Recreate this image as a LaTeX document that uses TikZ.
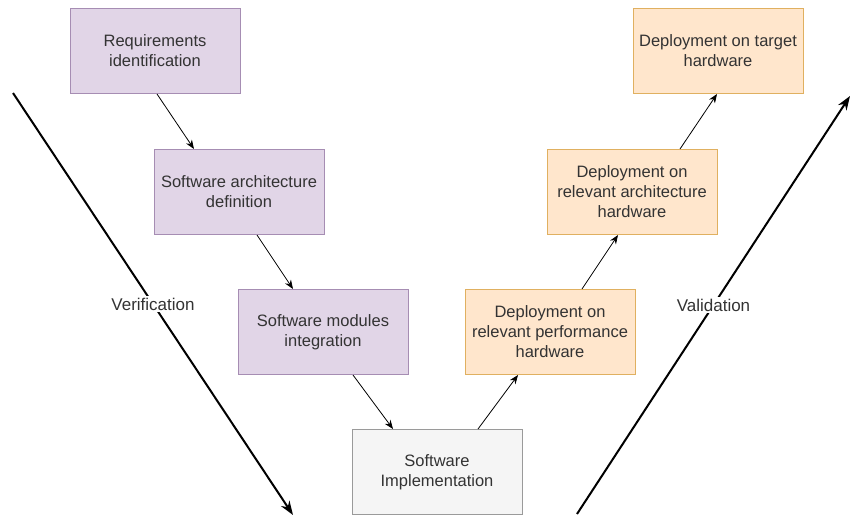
\documentclass[tikz,border=0pt]{standalone}
\usepackage{fontspec}
\setmainfont{Liberation Sans}
\usetikzlibrary{arrows.meta}
\definecolor{lilacfill}{HTML}{E1D5E7}
\definecolor{lilacline}{HTML}{A68DB3}
\definecolor{peachfill}{HTML}{FFE6CC}
\definecolor{peachline}{HTML}{E0B060}
\definecolor{greyfill}{HTML}{F5F5F5}
\definecolor{greyline}{HTML}{9A9A9A}
\definecolor{inktext}{HTML}{333333}

\begin{document}
\begin{tikzpicture}[x=1pt, y=-1pt,
  stage/.style={draw, line width=1pt, minimum width=170pt, minimum height=85pt,
    align=center, text=inktext, font=\fontsize{16.5}{20}\selectfont},
  softbox/.style={stage, fill=lilacfill, draw=lilacline},
  hwbox/.style={stage, fill=peachfill, draw=peachline},
  implbox/.style={stage, fill=greyfill, draw=greyline},
  flow/.style={line width=0.8pt, -{Stealth[length=9pt, width=7pt]}},
  axis/.style={line width=2pt, -{Stealth[length=14pt, width=10pt]}},
  axislabel/.style={fill=white, inner sep=2pt, text=inktext,
    font=\fontsize{17}{20}\selectfont}]

% Canvas
\useasboundingbox (0,0) rectangle (851,517);

% Left branch: software stages
\node[softbox] (req)  at (155,51)  {Requirements\\identification};
\node[softbox] (arch) at (239,192) {Software architecture\\definition};
\node[softbox] (mod)  at (323,332) {Software modules\\integration};

% Bottom
\node[implbox] (impl) at (437,472) {Software\\Implementation};

% Right branch: hardware stages
\node[hwbox] (perf)   at (550,332) {Deployment on\\relevant performance\\hardware};
\node[hwbox] (darch)  at (632,192) {Deployment on\\relevant architecture\\hardware};
\node[hwbox] (target) at (718,51)  {Deployment on target\\hardware};

% Flow between stages
\draw[flow] ([xshift=2]req.south)   -- ([xshift=-45]arch.north);
\draw[flow] ([xshift=18]arch.south) -- ([xshift=-30]mod.north);
\draw[flow] ([xshift=30]mod.south)  -- ([xshift=-44]impl.north);
\draw[flow] ([xshift=41]impl.north) -- ([xshift=-32]perf.south);
\draw[flow] ([xshift=32]perf.north) -- ([xshift=-14]darch.south);
\draw[flow] ([xshift=48]darch.north) -- ([xshift=-1]target.south);

% Verification / validation axes
\coordinate (verstart) at (13,93);
\coordinate (verend)   at (293,515);
\coordinate (valstart) at (577,514);
\coordinate (valend)   at (850,96);
\draw[axis] (verstart) -- node[axislabel] (verlabel) {Verification} (verend);
\draw[axis] (valstart) -- node[axislabel] (vallabel) {Validation} (valend);

\end{tikzpicture}
\end{document}
